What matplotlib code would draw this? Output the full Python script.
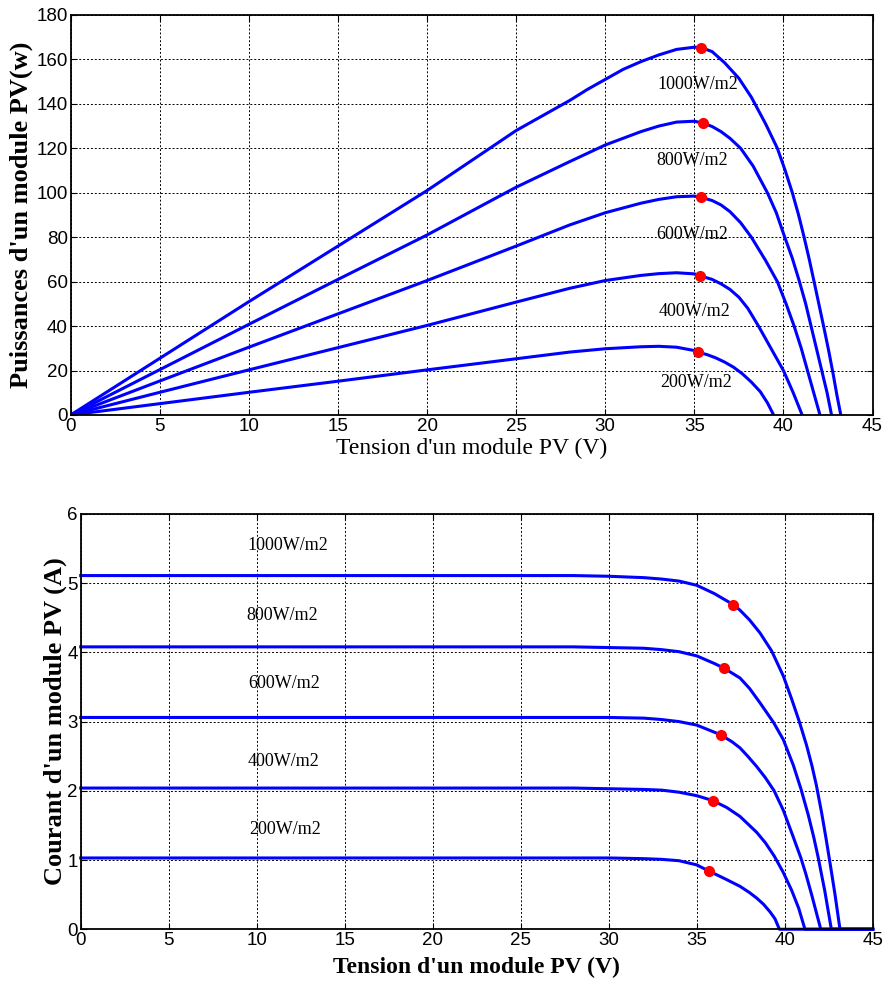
import matplotlib
matplotlib.use("Agg")
import matplotlib.pyplot as plt

# ---- donnees ----
irr_labels = ['1000W/m2', '800W/m2', '600W/m2', '400W/m2', '200W/m2']

# courbes P(V)
pv_v_1000 = [0, 5, 10, 15, 20, 25, 26, 28, 29, 30, 31, 32, 33, 34, 35, 35.4, 36, 36.7, 37.5, 38.2,
             39, 39.66, 40.1, 40.5, 40.85, 41.16, 41.45, 41.72, 42.0, 42.28, 42.55, 42.8, 43.0, 43.22]
pv_p_1000 = [0, 25.5, 51, 76, 101, 128, 132.5, 141.5, 146.5, 151, 155.5, 159, 162, 164.5, 165.5, 165.3,
             163.5, 158.5, 151.5, 143, 131, 120, 110, 100, 90, 80, 70, 60, 49.5, 39, 28.5, 18, 9, 0]
pv_v_800 = [0, 5, 10, 15, 20, 25, 28, 30, 32, 33, 34, 35, 35.5, 36, 36.5, 37, 37.6, 38.3, 39.1,
            39.6, 40.03, 40.5, 40.9, 41.25, 41.55, 41.85, 42.15, 42.45, 42.7]
pv_p_800 = [0, 20.4, 40.8, 61, 81, 102.5, 114, 121.5, 127.5, 130, 131.8, 132.2, 131.3, 129.8, 127.5,
            124.5, 120, 112, 100, 91, 81, 70.5, 60, 50, 40, 30, 20, 10, 0]
pv_v_600 = [0, 5, 10, 15, 20, 25, 28, 30, 32, 33, 34, 35, 35.4, 36, 36.5, 37, 37.6, 38.2, 39,
            39.66, 40.15, 40.6, 41.0, 41.35, 41.7, 42.05]
pv_p_600 = [0, 15.3, 30.5, 45.5, 60.5, 76, 85.5, 91, 95.3, 97, 98.2, 98.5, 97.9, 96.5, 94.5,
            91.5, 86.5, 80, 69.5, 60, 50, 40, 30, 20, 10, 0]
pv_v_400 = [0, 5, 10, 15, 20, 25, 28, 30, 32, 33, 34, 35, 35.3, 36, 36.5, 37, 37.5, 38, 38.6,
            39.3, 40.0, 40.55, 41.05]
pv_p_400 = [0, 10.2, 20.3, 30.3, 40.3, 50.8, 57, 60.5, 62.8, 63.6, 64, 63.5, 62.7, 61, 59,
            56.5, 53, 48, 40, 30, 20, 10, 0]
pv_v_200 = [0, 5, 10, 15, 20, 25, 28, 30, 32, 33, 34, 35, 35.2, 35.7, 36.2, 36.7, 37.2, 37.7,
            38.2, 38.7, 39.1, 39.45]
pv_p_200 = [0, 5.1, 10.2, 15.2, 20.3, 25.3, 28.3, 29.8, 30.7, 30.9, 30.5, 29, 28.2, 27.2, 25.7,
            23.8, 21.5, 18.5, 14.8, 10.5, 5.5, 0]

# points de puissance max (haut)
mpp_top_v = [35.4, 35.5, 35.4, 35.3, 35.2]
mpp_top_p = [165.3, 131.3, 97.9, 62.7, 28.2]

# courbes I(V)
iv_v_1000 = [0, 20, 28, 30, 32, 33, 34, 35, 36, 37.08, 37.46, 38.0, 38.6, 39.26, 39.92, 40.39,
             40.83, 41.24, 41.55, 41.8, 42.1, 42.35, 42.58, 42.86, 43.14, 45]
iv_i_1000 = [5.11, 5.11, 5.11, 5.10, 5.08, 5.06, 5.03, 4.97, 4.85, 4.69, 4.61, 4.47, 4.28, 4.02,
             3.66, 3.33, 3.0, 2.66, 2.36, 2.08, 1.68, 1.31, 0.95, 0.5, 0, 0]
iv_v_800 = [0, 28, 30, 32, 33, 34, 35, 36, 36.57, 37.46, 38.0, 38.6, 39.36, 39.92, 40.49,
            40.92, 41.34, 41.65, 41.9, 42.28, 42.65, 45]
iv_i_800 = [4.08, 4.08, 4.07, 4.06, 4.04, 4.01, 3.95, 3.84, 3.77, 3.63, 3.48, 3.27, 2.99, 2.74,
            2.37, 2.03, 1.65, 1.33, 1.04, 0.55, 0, 0]
iv_v_600 = [0, 28, 30, 32, 33, 34, 35, 36.36, 37.0, 37.46, 37.9, 38.41, 38.9, 39.4, 39.92,
            40.49, 40.92, 41.2, 41.53, 41.8, 42.05, 45]
iv_i_600 = [3.06, 3.06, 3.06, 3.05, 3.03, 3.00, 2.95, 2.81, 2.71, 2.62, 2.5, 2.35, 2.19, 2.0,
            1.72, 1.33, 1.03, 0.8, 0.5, 0.24, 0, 0]
iv_v_400 = [0, 28, 30, 32, 33, 34, 35, 35.9, 36.7, 37.46, 38.41, 38.9, 39.4, 39.9, 40.4,
            40.8, 41.15, 45]
iv_i_400 = [2.04, 2.04, 2.03, 2.02, 2.01, 1.98, 1.93, 1.86, 1.76, 1.63, 1.40, 1.25, 1.06, 0.83,
            0.56, 0.3, 0, 0]
iv_v_200 = [0, 28, 30, 32, 33, 34, 35, 35.7, 36.6, 37.46, 38.0, 38.41, 38.8, 39.17, 39.45,
            39.7, 45]
iv_i_200 = [1.03, 1.03, 1.03, 1.02, 1.01, 0.99, 0.93, 0.84, 0.73, 0.62, 0.53, 0.45, 0.36, 0.25,
            0.15, 0, 0]

# points de puissance max (bas)
mpp_bot_v = [37.08, 36.57, 36.36, 35.9, 35.7]
mpp_bot_i = [4.69, 3.77, 2.81, 1.86, 0.84]

# positions des etiquettes
lab_top_v = [35.2, 34.9, 34.9, 35.0, 35.1]
lab_top_p = [148.5, 114.4, 81, 46.5, 14.5]
lab_bot_v = [11.75, 11.47, 11.55, 11.55, 11.63]
lab_bot_i = [5.55, 4.53, 3.545, 2.42, 1.435]


def style_axes(ax):
    ax.grid(True, color='black', linestyle=(0, (2, 2)), linewidth=0.7)
    ax.tick_params(direction='in', top=True, right=True, length=4,
                   labelsize=13.5, pad=2)
    for lab in ax.get_xticklabels() + ax.get_yticklabels():
        lab.set_fontfamily('Liberation Sans')
    for sp in ax.spines.values():
        sp.set_linewidth(1.3)


fig = plt.figure(figsize=(8.85, 9.85), dpi=100)

# ---- graphe P(V) ----
ax1 = fig.add_axes([0.0799, 0.5787, 0.906, 0.4061])
for v, p in [(pv_v_1000, pv_p_1000), (pv_v_800, pv_p_800), (pv_v_600, pv_p_600),
             (pv_v_400, pv_p_400), (pv_v_200, pv_p_200)]:
    ax1.plot(v, p, color='blue', linewidth=2.2)
ax1.plot(mpp_top_v, mpp_top_p, 'o', color='red', markersize=7, linestyle='none')
for x, y, t in zip(lab_top_v, lab_top_p, irr_labels):
    ax1.text(x, y, t, ha='center', va='center', fontsize=13,
             family='Liberation Serif')
ax1.set_xlim(0, 45)
ax1.set_ylim(0, 180)
ax1.set_xticks(range(0, 46, 5))
ax1.set_yticks(range(0, 181, 20))
style_axes(ax1)
ax1.set_xlabel("Tension d'un module PV (V)", fontsize=17, family='Liberation Serif')
ax1.xaxis.set_label_coords(0.5, -0.057)
ax1.set_ylabel("Puissances d'un module PV(w)", fontsize=19, fontweight='bold',
               family='Liberation Serif')
ax1.yaxis.set_label_coords(-0.047, 0.5)

# ---- graphe I(V) ----
ax2 = fig.add_axes([0.0912, 0.0566, 0.8949, 0.4216])
for v, i in [(iv_v_1000, iv_i_1000), (iv_v_800, iv_i_800), (iv_v_600, iv_i_600),
             (iv_v_400, iv_i_400), (iv_v_200, iv_i_200)]:
    ax2.plot(v, i, color='blue', linewidth=2.2, clip_on=False)
ax2.plot(mpp_bot_v, mpp_bot_i, 'o', color='red', markersize=7, linestyle='none')
for x, y, t in zip(lab_bot_v, lab_bot_i, irr_labels):
    ax2.text(x, y, t, ha='center', va='center', fontsize=13,
             family='Liberation Serif')
ax2.set_xlim(0, 45)
ax2.set_ylim(0, 6)
ax2.set_xticks(range(0, 46, 5))
ax2.set_yticks(range(0, 7))
style_axes(ax2)
ax2.set_xlabel("Tension d'un module PV (V)", fontsize=17, fontweight='bold',
               family='Liberation Serif')
ax2.xaxis.set_label_coords(0.5, -0.066)
ax2.set_ylabel("Courant d'un module PV (A)", fontsize=19, fontweight='bold',
               family='Liberation Serif')
ax2.yaxis.set_label_coords(-0.017, 0.5)

fig.savefig('out.png', dpi=100)
